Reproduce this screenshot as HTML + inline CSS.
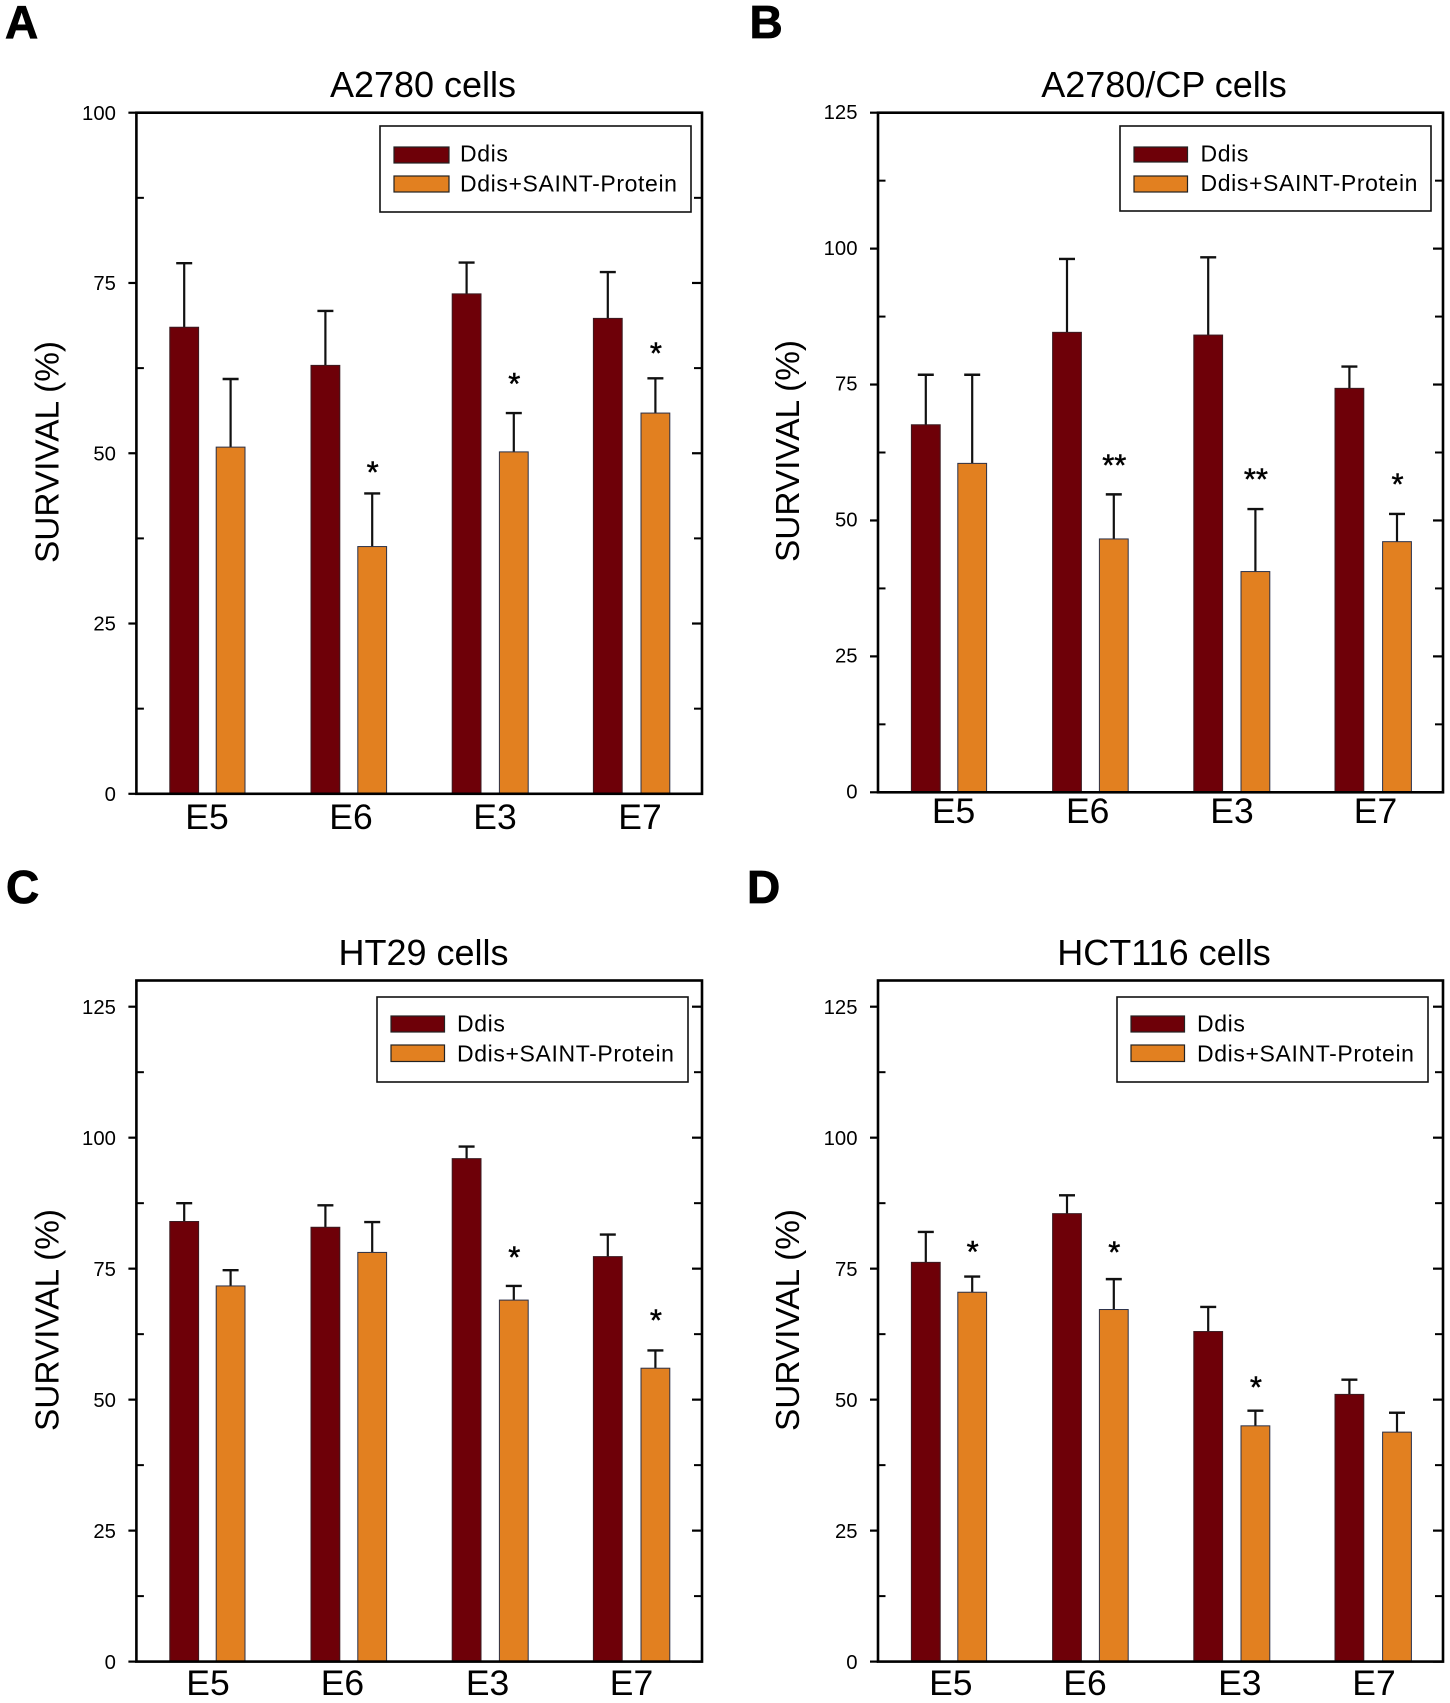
<!DOCTYPE html>
<html lang="en">
<head>
<meta charset="utf-8">
<title>Survival of cell lines treated with Ddis and Ddis+SAINT-Protein</title>
<style>
  html, body { margin: 0; padding: 0; background: #fff; }
  svg { display: block; font-family: "Liberation Sans", sans-serif; fill: #000; filter: blur(0.3px); }
  .letter { font-size: 46px; font-weight: bold; stroke: #000; stroke-width: 0.8; }
  .title { font-size: 36px; text-anchor: middle; }
  .ytitle { font-size: 33.4px; text-anchor: middle; }
  .legend-text { font-size: 23px; letter-spacing: 0.62px; }
  .legend-box { fill: #fff; stroke: #111; stroke-width: 1.6; }
  .sw-dark { fill: #6e0008; stroke: #222; stroke-width: 1.2; }
  .sw-orange { fill: #e28020; stroke: #222; stroke-width: 1.2; }
</style>
</head>
<body>
<svg id="figure" xmlns="http://www.w3.org/2000/svg" width="1450" height="1703" viewBox="0 0 1450 1703">
  <rect width="1450" height="1703" fill="#fff"/>

  <g id="panel-a"></g>
  <g id="panel-b"></g>
  <g id="panel-c"></g>
  <g id="panel-d"></g>

  <text class="letter" x="5" y="38">A</text>
  <text class="letter" x="749.5" y="38">B</text>
  <text class="letter" x="6" y="903">C</text>
  <text class="letter" x="747" y="903">D</text>

  <text class="title" x="423" y="97">A2780 cells</text>
  <text class="title" x="1164" y="97">A2780/CP cells</text>
  <text class="title" x="423.5" y="965">HT29 cells</text>
  <text class="title" x="1164" y="965">HCT116 cells</text>

  <text class="ytitle" transform="translate(58.5,452) rotate(-90)">SURVIVAL (%)</text>
  <text class="ytitle" transform="translate(799,451) rotate(-90)">SURVIVAL (%)</text>
  <text class="ytitle" transform="translate(58.5,1320) rotate(-90)">SURVIVAL (%)</text>
  <text class="ytitle" transform="translate(799,1320) rotate(-90)">SURVIVAL (%)</text>

  <g>
    <rect class="legend-box" x="380" y="126" width="311" height="86"/>
    <rect class="sw-dark" x="394" y="147" width="55" height="16"/>
    <text class="legend-text" x="460" y="161.5">Ddis</text>
    <rect class="sw-orange" x="394" y="176" width="55" height="16"/>
    <text class="legend-text" x="460" y="191.5">Ddis+SAINT-Protein</text>
  </g>
  <g>
    <rect class="legend-box" x="1120" y="126" width="311" height="85"/>
    <rect class="sw-dark" x="1134" y="147" width="53.5" height="15"/>
    <text class="legend-text" x="1200.5" y="161.5">Ddis</text>
    <rect class="sw-orange" x="1134" y="176" width="53.5" height="16"/>
    <text class="legend-text" x="1200.5" y="191">Ddis+SAINT-Protein</text>
  </g>
  <g>
    <rect class="legend-box" x="377" y="997" width="311" height="85"/>
    <rect class="sw-dark" x="391" y="1016" width="53.5" height="16"/>
    <text class="legend-text" x="457" y="1031.5">Ddis</text>
    <rect class="sw-orange" x="391" y="1045" width="53.5" height="16.5"/>
    <text class="legend-text" x="457" y="1061.5">Ddis+SAINT-Protein</text>
  </g>
  <g>
    <rect class="legend-box" x="1117" y="997" width="311" height="85"/>
    <rect class="sw-dark" x="1131" y="1016" width="53.5" height="16"/>
    <text class="legend-text" x="1197" y="1031.5">Ddis</text>
    <rect class="sw-orange" x="1131" y="1045" width="53.5" height="16.5"/>
    <text class="legend-text" x="1197" y="1061.5">Ddis+SAINT-Protein</text>
  </g>
</svg>

<script>
// Shared categories
var categories = ['E5', 'E6', 'E3', 'E7'];

// Panel A: A2780 cells
var ddisA = [68.5, 62.9, 73.4, 69.8];
var ddisUpperA = [77.9, 70.9, 78.0, 76.6];
var saintA = [50.9, 36.3, 50.2, 55.9];
var saintUpperA = [60.9, 44.1, 55.9, 61.0];
var starsA = ['', '*', '*', '*'];
var starLevelA = [0, 47.8, 60.8, 65.3];
var majorA = [0, 25, 50, 75, 100];
var minorA = [12.5, 37.5, 62.5, 87.5];

// Panel B: A2780/CP cells
var ddisB = [67.6, 84.6, 84.1, 74.3];
var ddisUpperB = [76.8, 98.1, 98.4, 78.3];
var saintB = [60.5, 46.6, 40.6, 46.1];
var saintUpperB = [76.8, 54.8, 52.1, 51.2];
var starsB = ['', '**', '**', '*'];
var starLevelB = [0, 60.9, 58.4, 57.4];
var majorB = [0, 25, 50, 75, 100, 125];
var minorB = [12.5, 37.5, 62.5, 87.5, 112.5];

// Panel C: HT29 cells
var ddisC = [84.0, 82.9, 96.0, 77.3];
var ddisUpperC = [87.5, 87.1, 98.3, 81.5];
var saintC = [71.7, 78.1, 69.0, 56.0];
var saintUpperC = [74.7, 83.9, 71.7, 59.4];
var starsC = ['', '', '*', '*'];
var starLevelC = [0, 0, 78.0, 66.0];
var majorC = [0, 25, 50, 75, 100, 125];
var minorC = [12.5, 37.5, 62.5, 87.5, 112.5];

// Panel D: HCT116 cells
var ddisD = [76.2, 85.5, 63.0, 51.0];
var ddisUpperD = [82.0, 89.0, 67.7, 53.8];
var saintD = [70.5, 67.2, 45.0, 43.8];
var saintUpperD = [73.5, 73.0, 47.9, 47.5];
var starsD = ['*', '*', '*', ''];
var starLevelD = [79.0, 78.9, 53.2, 0];
var majorD = [0, 25, 50, 75, 100, 125];
var minorD = [12.5, 37.5, 62.5, 87.5, 112.5];

var SVGNS = 'http://www.w3.org/2000/svg';
var DARK = '#6e0008';
var ORANGE = '#e28020';

function make(tag, parent, attrs, text) {
  var el = document.createElementNS(SVGNS, tag);
  for (var k in attrs) { el.setAttribute(k, attrs[k]); }
  if (text !== undefined) { el.textContent = text; }
  parent.appendChild(el);
  return el;
}

function drawPanel(p) {
  var root = document.getElementById(p.id);
  var yScale = function (v) { return p.bottom - (v / p.yMax) * (p.bottom - p.top); };
  // Bar centres step evenly across the four groups, relative to the left axis.
  var darkX = function (i) { return p.left + 47.8 + 141.2 * i; };
  var orangeX = function (i) { return p.left + 94.2 + 141.6 * i; };

  function drawBar(cx, value, upper, fill, edge, series, cat) {
    var y = yScale(value);
    var up = yScale(upper);
    var stem = make('line', root, { x1: cx, x2: cx, y1: y, y2: up, stroke: '#111', 'stroke-width': 2.2 });
    
    
    var cap = make('line', root, { x1: cx - 8, x2: cx + 8, y1: up, y2: up, stroke: '#111', 'stroke-width': 2.4 });
    
    
    var bar = make('rect', root, { x: cx - 14.4, y: y, width: 28.8, height: p.bottom - y, fill: fill, stroke: edge, 'stroke-width': 1 });
    
    
  }

  categories.forEach(function (cat, i) {
    drawBar(darkX(i), p.ddis[i], p.ddisUpper[i], DARK, '#3a1a20', 'ddis', cat);
    drawBar(orangeX(i), p.saint[i], p.saintUpper[i], ORANGE, '#2a3048', 'saint', cat);
    if (p.stars[i]) {
      var star = make('text', root, {
        x: orangeX(i) + 0.5,
        y: yScale(p.starLevel[i]) + 14.5,
        'text-anchor': 'middle',
        'font-size': 31,
        stroke: '#000',
        'stroke-width': 0.5
      }, p.stars[i]);
      
      
    }
    var label = make('text', root, {
      x: p.catX[i],
      y: p.catBaseline,
      'text-anchor': 'middle',
      'font-size': 35.5
    }, cat);
    
    
  });

  var frame = make('rect', root, {
    x: p.left, y: p.top, width: p.right - p.left, height: p.bottom - p.top,
    fill: 'none', stroke: '#000', 'stroke-width': 2.6
  });
  
  

  p.major.forEach(function (v) {
    var y = yScale(v);
    var t1 = make('line', root, { x1: p.left - 8, x2: p.left, y1: y, y2: y, stroke: '#000', 'stroke-width': 2.2 });
    
    
    var t2 = make('line', root, { x1: p.right - 10, x2: p.right, y1: y, y2: y, stroke: '#000', 'stroke-width': 2.2 });
    
    
    var lab = make('text', root, {
      x: p.left - 20.5,
      y: y + 7.2 + p.tickDy,
      'text-anchor': 'end',
      'font-size': 20.3
    }, String(v));
    
    
  });

  p.minor.forEach(function (v) {
    var y = yScale(v);
    var t1 = make('line', root, { x1: p.left, x2: p.left + 7.5, y1: y, y2: y, stroke: '#000', 'stroke-width': 2 });
    
    
    var t2 = make('line', root, { x1: p.right - 8, x2: p.right, y1: y, y2: y, stroke: '#000', 'stroke-width': 2 });
    
    
  });
}

drawPanel({
  id: 'panel-a', left: 136.4, right: 702, top: 112.7, bottom: 793.8, yMax: 100,
  catX: [207, 351, 495, 640], catBaseline: 829, tickDy: 0,
  ddis: ddisA, ddisUpper: ddisUpperA, saint: saintA, saintUpper: saintUpperA,
  stars: starsA, starLevel: starLevelA, major: majorA, minor: minorA
});
drawPanel({
  id: 'panel-b', left: 878, right: 1443, top: 112.7, bottom: 792.3, yMax: 125,
  catX: [953.6, 1087.7, 1232, 1375.5], catBaseline: 823, tickDy: -1,
  ddis: ddisB, ddisUpper: ddisUpperB, saint: saintB, saintUpper: saintUpperB,
  stars: starsB, starLevel: starLevelB, major: majorB, minor: minorB
});
drawPanel({
  id: 'panel-c', left: 136.4, right: 702, top: 980.5, bottom: 1661.6, yMax: 130,
  catX: [208, 342.4, 487.6, 631.5], catBaseline: 1695, tickDy: 0,
  ddis: ddisC, ddisUpper: ddisUpperC, saint: saintC, saintUpper: saintUpperC,
  stars: starsC, starLevel: starLevelC, major: majorC, minor: minorC
});
drawPanel({
  id: 'panel-d', left: 878, right: 1443, top: 980.5, bottom: 1661.6, yMax: 130,
  catX: [950.8, 1085, 1239.8, 1374], catBaseline: 1695, tickDy: 0,
  ddis: ddisD, ddisUpper: ddisUpperD, saint: saintD, saintUpper: saintUpperD,
  stars: starsD, starLevel: starLevelD, major: majorD, minor: minorD
});
</script>
</body>
</html>
